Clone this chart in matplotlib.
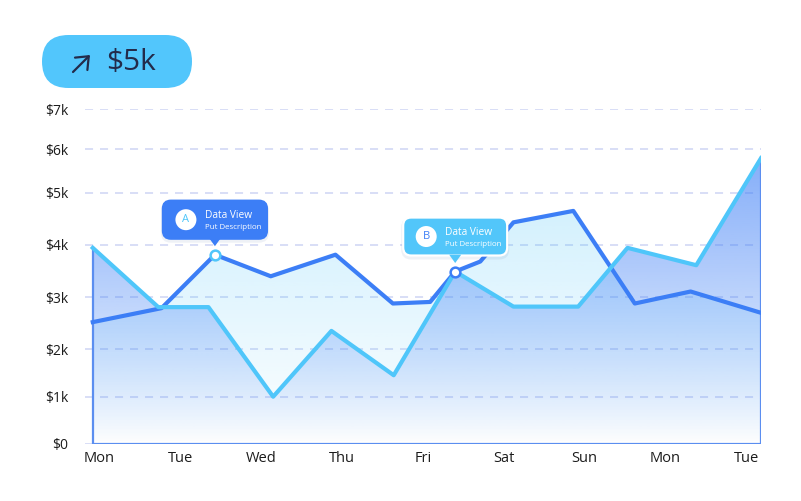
import numpy as np
import matplotlib
matplotlib.use('Agg')
import matplotlib.pyplot as plt
from matplotlib.patches import FancyBboxPatch, Polygon, Circle, FancyArrowPatch
from matplotlib.transforms import Affine2D
from matplotlib.colors import to_rgb

# data
days = ['Mon', 'Tue', 'Wed', 'Thu', 'Fri', 'Sat', 'Sun', 'Mon', 'Tue']
x_a = [-0.08, 0.77, 1.43, 2.12, 2.92, 3.63, 4.09, 4.40, 4.71, 5.12, 5.86, 6.62, 7.31, 8.18]
y_a = [2.52, 2.79, 3.81, 3.40, 3.81, 2.88, 2.91, 3.49, 3.68, 4.43, 4.65, 2.88, 3.11, 2.70]
x_b = [-0.08, 0.73, 1.35, 2.15, 2.87, 3.64, 4.40, 5.12, 5.92, 6.53, 7.38, 8.18]
y_b = [3.94, 2.81, 2.81, 1.00, 2.35, 1.45, 3.49, 2.82, 2.82, 3.94, 3.61, 5.79]
y_ticks = [0, 1, 2, 3, 4, 5, 6, 7]
y_labels = [r'\$0', r'\$1k', r'\$2k', r'\$3k', r'\$4k', r'\$5k', r'\$6k', r'\$7k']
badge_text = r'\$5k'

# the design spaces the gridlines unevenly, so use a piecewise scale
grid_pos = [0, 47.3, 95, 146.7, 199.3, 251.3, 295, 334.7]
vals_ext = [-1] + y_ticks + [8]
pos_ext = [-47.3] + grid_pos + [374.4]

def fwd(v):
    return np.interp(v, vals_ext, pos_ext)

def inv(p):
    return np.interp(p, pos_ext, vals_ext)

DARK = '#3C7EF6'
LIGHT = '#4FC6FA'
NAVY = '#232B4A'

plt.rcParams['font.family'] = ['Open Sans', 'DejaVu Sans']
plt.rcParams['lines.scale_dashes'] = False

W, H = 801, 501
fig = plt.figure(figsize=(W / 100, H / 100), dpi=100)
ax = fig.add_axes([85 / W, 1 - 444 / H, (761 - 85) / W, (444 - 109.3) / H])
ax.set_yscale('function', functions=(fwd, inv))

# dashed gridlines
for t in y_ticks:
    ax.axhline(t, color='#D5DBF6', lw=1.3, dashes=(5.8, 5), zorder=0.5)

grad = np.linspace(0, 1, 256)[:, None]

def gradient_fill(x, y, color, top_alpha, power, z):
    poly = ax.fill_between(x, y, 0, color='none', lw=0)
    rgba = np.zeros((256, 1, 4))
    rgba[..., :3] = to_rgb(color)
    rgba[..., 3] = top_alpha * grad ** power
    im = ax.imshow(rgba, extent=(0, 1, 0, 1), transform=ax.transAxes,
                   origin='lower', aspect='auto', interpolation='bilinear', zorder=z)
    im.set_clip_path(poly.get_paths()[0], ax.transData)

gradient_fill(x_a, y_a, LIGHT, 0.34, 0.9, 1)
gradient_fill(x_b, y_b, DARK, 0.72, 0.9, 1.5)

# outline of the lower area
ax.plot([x_b[0], x_b[0], x_b[-1], x_b[-1]], [y_b[0], 0, 0, y_b[-1]],
        color='#5B8EF0', lw=1.6, zorder=2.5)

ax.plot(x_a, y_a, color=DARK, lw=3, zorder=3, solid_joinstyle='round')
ax.plot(x_b, y_b, color=LIGHT, lw=3, zorder=4, solid_joinstyle='round')

# highlighted points
ax.plot(x_a[2], y_a[2], 'o', ms=7, mfc='white', mec=LIGHT, mew=1.8, zorder=6)
ax.plot(x_b[6], y_b[6], 'o', ms=7, mfc='white', mec=DARK, mew=1.8, zorder=6)

ax.set_xlim(-0.176, 8.18)
ax.set_ylim(0, 7)
ax.set_xticks(range(len(days)))
ax.set_xticklabels(days)
ax.set_yticks(y_ticks)
ax.set_yticklabels(y_labels)
ax.yaxis.set_minor_locator(matplotlib.ticker.NullLocator())
ax.tick_params(length=0, labelsize=10.5, colors='#1C1C1C')
ax.tick_params(axis='x', pad=5)
ax.tick_params(axis='y', pad=12, labelsize=10)
for s in ax.spines.values():
    s.set_visible(False)

# pixel coords, origin top-left
pix = Affine2D().scale(1, -1).translate(0, H)

def to_px(x, y):
    dx, dy = ax.transData.transform((x, y))
    return dx, H - dy

def tooltip(mx, my, letter, bg, fg, edge):
    w, h = 104, 38
    top = my - 16 - h
    shadow = FancyBboxPatch((mx - w / 2 - 2, top), w + 4, h + 4,
                            boxstyle='round,pad=0,rounding_size=10',
                            fc='#1A3D80', ec='none', alpha=0.07, transform=pix, zorder=4)
    fig.add_artist(shadow)
    box = FancyBboxPatch((mx - w / 2, top), w, h, boxstyle='round,pad=0,rounding_size=8',
                         fc=bg, ec=edge, lw=1.6, transform=pix, zorder=5)
    fig.add_artist(box)
    tip = Polygon([(mx - 6, my - 16.8), (mx + 6, my - 16.8), (mx, my - 8.5)],
                  closed=True, fc=bg, ec='none', transform=pix, zorder=5.1)
    fig.add_artist(tip)
    fig.add_artist(Circle((mx - 29, my - 35), 10.5, fc='white', ec='none',
                          transform=pix, zorder=6))
    fig.text(mx - 29, my - 35, letter, transform=pix, ha='center', va='center',
             fontsize=8, color=fg, zorder=7)
    fig.text(mx - 10, my - 39, 'Data View', transform=pix, ha='left', va='center',
             fontsize=7.3, color='white', zorder=7)
    fig.text(mx - 10, my - 27, 'Put Description', transform=pix, ha='left', va='center',
             fontsize=5.7, color='white', zorder=7)

mx, my = to_px(x_a[2], y_a[2])
tooltip(mx, my, 'A', DARK, LIGHT, DARK)
mx, my = to_px(x_b[6], y_b[6])
tooltip(mx, my, 'B', '#52C6FA', DARK, 'white')

# badge at the top
fig.add_artist(FancyBboxPatch((42, 35), 150, 53, boxstyle='round,pad=0,rounding_size=26.5',
                              fc='#52C6FC', ec='none', transform=pix))
fig.add_artist(FancyArrowPatch((73, 72), (90, 55), arrowstyle='->,head_length=0.55,head_width=0.45',
                               mutation_scale=14, lw=1.6, color=NAVY, shrinkA=0, shrinkB=0,
                               transform=pix))
fig.text(106, 63, badge_text, transform=pix, ha='left', va='center', fontsize=21.5, color=NAVY)

fig.savefig('out.png', dpi=100)
